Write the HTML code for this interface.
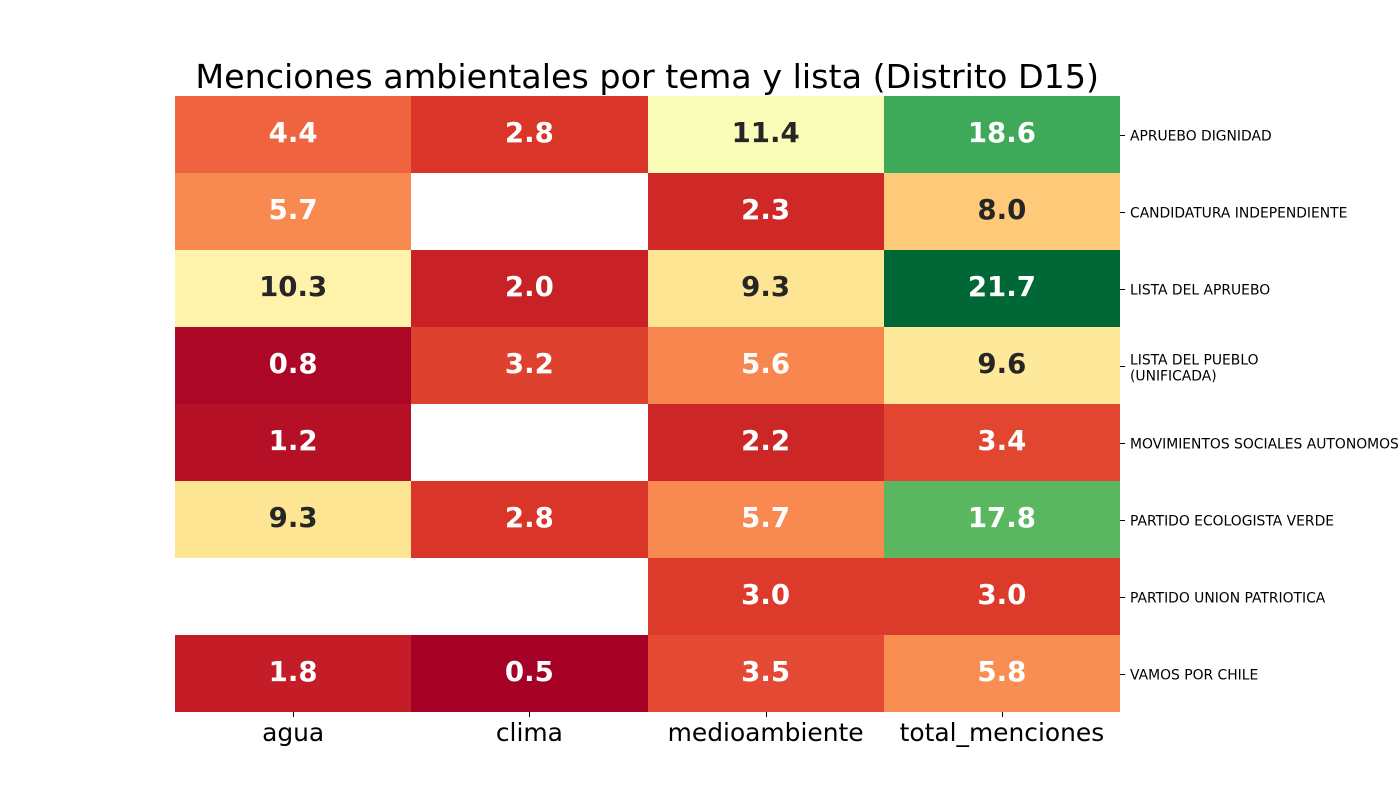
<!DOCTYPE html>
<html lang="es">
<head>
<meta charset="utf-8">
<title>Menciones ambientales por tema y lista</title>
<style>
html,body{margin:0;padding:0;background:#fff;width:1400px;height:800px;overflow:hidden}
svg{display:block}
text{font-family:"DejaVu Sans",sans-serif}
</style>
</head>
<body>
<svg id="chart" xmlns="http://www.w3.org/2000/svg" width="1400" height="800" viewBox="0 0 1400 800">
<rect x="0" y="0" width="1400" height="800" fill="#ffffff"/>
<text x="647.2" y="88" font-size="33.33" text-anchor="middle" fill="#000">Menciones ambientales por tema y lista (Distrito D15)</text>
<g id="cells"></g>
<g id="annotations"></g>
<g id="xaxis"></g>
<g id="yaxis"></g>
</svg>
<script>
const topics = ['agua', 'clima', 'medioambiente', 'total_menciones'];
const lists = [['APRUEBO DIGNIDAD'], ['CANDIDATURA INDEPENDIENTE'], ['LISTA DEL APRUEBO'], ['LISTA DEL PUEBLO', '(UNIFICADA)'], ['MOVIMIENTOS SOCIALES AUTONOMOS'], ['PARTIDO ECOLOGISTA VERDE'], ['PARTIDO UNION PATRIOTICA'], ['VAMOS POR CHILE']];
const agua = [4.4, 5.7, 10.3, 0.8, 1.2, 9.3, null, 1.8];
const clima = [2.8, null, 2.0, 3.2, null, 2.8, null, 0.5];
const medioambiente = [11.4, 2.3, 9.3, 5.6, 2.2, 5.7, 3.0, 3.5];
const totalMenciones = [18.6, 8.0, 21.7, 9.6, 3.4, 17.8, 3.0, 5.8];
const seriesByTopic = [agua, clima, medioambiente, totalMenciones];

const NS = 'http://www.w3.org/2000/svg';
const plot = {left: 175, right: 1120, top: 96, bottom: 712};
const ramp = [[165,0,38],[215,48,39],[244,109,67],[253,174,97],[254,224,139],[255,255,191],[217,239,139],[166,217,106],[102,189,99],[26,152,80],[0,104,55]];

function xScale(i) { return plot.left + i * (plot.right - plot.left) / topics.length; }
function yScale(i) { return plot.top + i * (plot.bottom - plot.top) / lists.length; }

const allValues = seriesByTopic.flat().filter(v => v !== null);
const vMin = Math.min(...allValues);
const vMax = Math.max(...allValues);

function colorFor(v) {
  const t = Math.max(0, Math.min(1, (v - vMin) / (vMax - vMin))) * (ramp.length - 1);
  const k = Math.min(Math.floor(t), ramp.length - 2);
  const f = t - k;
  return ramp[k].map((c, n) => Math.round(c + (ramp[k + 1][n] - c) * f));
}
function luminance(rgb) {
  const lin = rgb.map(c => { const s = c / 255; return s <= 0.03928 ? s / 12.92 : Math.pow((s + 0.055) / 1.055, 2.4); });
  return 0.2126 * lin[0] + 0.7152 * lin[1] + 0.0722 * lin[2];
}
function svgEl(tag, attrs, parent) {
  const el = document.createElementNS(NS, tag);
  Object.keys(attrs).forEach(k => el.setAttribute(k, attrs[k]));
  parent.appendChild(el);
  return el;
}

const cellsG = document.getElementById('cells');
const annotG = document.getElementById('annotations');
const xG = document.getElementById('xaxis');
const yG = document.getElementById('yaxis');

seriesByTopic.forEach((series, c) => {
  series.forEach((v, r) => {
    if (v === null) return;
    const rgb = colorFor(v);
    const x0 = Math.round(xScale(c)), x1 = Math.round(xScale(c + 1)), y0 = Math.round(yScale(r)), y1 = Math.round(yScale(r + 1));
    const rect = svgEl('rect', {x: x0, y: y0, width: x1 - x0, height: y1 - y0, fill: 'rgb(' + rgb.join(',') + ')', 'shape-rendering': 'crispEdges'}, cellsG);
    
    
    const label = svgEl('text', {x: (xScale(c) + xScale(c + 1)) / 2, y: (yScale(r) + yScale(r + 1)) / 2 + 7.6, 'font-size': 27.6, 'font-weight': 'bold', 'text-anchor': 'middle', fill: luminance(rgb) > 0.408 ? '#262626' : '#ffffff'}, annotG);
    
    
    label.textContent = v.toFixed(1);
  });
});

topics.forEach((name, c) => {
  const cx = (xScale(c) + xScale(c + 1)) / 2;
  const px = Math.round(cx) + 0.5;
  const tick = svgEl('line', {x1: px, x2: px, y1: plot.bottom, y2: plot.bottom + 5, stroke: '#000', 'stroke-width': 1, 'shape-rendering': 'crispEdges'}, xG);
  
  
  const label = svgEl('text', {x: cx, y: 741, 'font-size': 24.9, 'text-anchor': 'middle', fill: '#000'}, xG);
  
  
  label.textContent = name;
});

lists.forEach((lines, r) => {
  const cy = (yScale(r) + yScale(r + 1)) / 2;
  const py = Math.round(cy) + 0.5;
  const tick = svgEl('line', {x1: plot.right, x2: plot.right + 5, y1: py, y2: py, stroke: '#000', 'stroke-width': 1, 'shape-rendering': 'crispEdges'}, yG);
  
  
  const label = svgEl('text', {x: 1130, y: cy, 'font-size': 13.89, fill: '#000'}, yG);
  
  
  lines.forEach((line, n) => {
    const span = svgEl('tspan', {x: 1130, y: cy + 6 + (lines.length > 1 ? 1 : 0) + (n - (lines.length - 1) / 2) * 16.2}, label);
    span.textContent = line;
  });
});
</script>
</body>
</html>
